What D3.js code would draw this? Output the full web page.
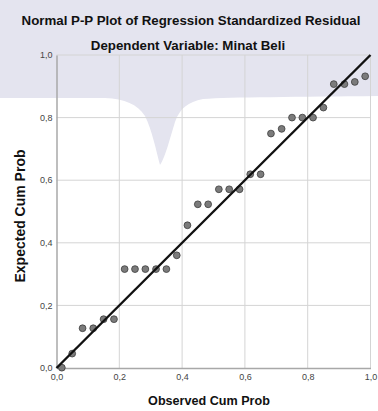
<!DOCTYPE html>
<html>
<head>
<meta charset="utf-8">
<script src="https://cdn.jsdelivr.net/npm/d3@7"></script>
<style>
    body { margin: 0; background: #fff; }
    svg { display: block; font-family: "Liberation Sans", Arial, sans-serif; }
</style>
</head>
<body>
<svg id="chart"></svg>
<script>
// observed vs expected cumulative probabilities
const observed = [0.017, 0.050, 0.083, 0.117, 0.150, 0.183, 0.217, 0.250, 0.283, 0.317,
    0.350, 0.383, 0.417, 0.450, 0.483, 0.517, 0.550, 0.583, 0.617, 0.650,
    0.683, 0.717, 0.750, 0.783, 0.817, 0.850, 0.883, 0.917, 0.950, 0.983];
const expected = [0.001, 0.046, 0.127, 0.127, 0.156, 0.156, 0.316, 0.316, 0.316, 0.316,
    0.316, 0.360, 0.456, 0.523, 0.523, 0.571, 0.571, 0.571, 0.619, 0.619,
    0.749, 0.764, 0.800, 0.800, 0.800, 0.832, 0.907, 0.907, 0.914, 0.932];
const ticks = [0, 0.2, 0.4, 0.6, 0.8, 1.0];
const title = "Normal P-P Plot of Regression Standardized Residual";
const subtitle = "Dependent Variable: Minat Beli";
const xLabel = "Observed Cum Prob";
const yLabel = "Expected Cum Prob";

const width = 378, height = 411;
const margin = { top: 55, right: 7.5, bottom: 43, left: 56.5 };
const fmt = d => d3.format(".1f")(d).replace(".", ",");

const svg = d3.select("#chart").attr("width", width).attr("height", height);

// watermark band from the scanned page
svg.append("path")
    .attr("fill", "#e4e4ef")
    .attr("d", "M0,0 H378 V96 C300,97 230,97 203,99 C188,102 180,108 175,122 C170,138 165,158 160,165 C156,150 152,130 145,116 C137,104 125,99 105,98 L0,98 Z");

const xScale = d3.scaleLinear().domain([0, 1]).range([margin.left, width - margin.right]);
const yScale = d3.scaleLinear().domain([0, 1]).range([height - margin.bottom, margin.top]);

// grid
const grid = svg.append("g").attr("stroke", "#d4d4d4").attr("stroke-width", 1);
grid.selectAll(".gx").data(ticks.slice(1)).join("line")
    .attr("x1", d => xScale(d)).attr("x2", d => xScale(d))
    .attr("y1", yScale(0)).attr("y2", yScale(1));
grid.selectAll(".gy").data(ticks.slice(1)).join("line")
    .attr("x1", xScale(0)).attr("x2", xScale(1))
    .attr("y1", d => yScale(d)).attr("y2", d => yScale(d));

// axes
const xAxis = svg.append("g")
    .attr("transform", `translate(0,${ yScale(0) })`)
    .call(d3.axisBottom(xScale).tickValues(ticks).tickFormat(fmt).tickSize(0).tickPadding(6));
const yAxis = svg.append("g")
    .attr("transform", `translate(${ xScale(0) },0)`)
    .call(d3.axisLeft(yScale).tickValues(ticks).tickFormat(fmt).tickSize(0).tickPadding(4));
[xAxis, yAxis].forEach(a => {
    a.select(".domain").attr("stroke", "#a8a8a8").attr("stroke-width", 1.5);
    a.selectAll("text").attr("font-size", 9).attr("fill", "#444").attr("font-family", "Liberation Sans, Arial, sans-serif");
});
yAxis.selectAll("text").attr("dy", "0.3em");

// points
const pts = observed.map((o, i) => [o, expected[i]]);
svg.append("g").selectAll("circle").data(pts).join("circle")
    .attr("cx", d => xScale(d[0]))
    .attr("cy", d => yScale(d[1]))
    .attr("r", 3.4)
    .attr("fill", "#7b7b7b")
    .attr("stroke", "#3c3c3c")
    .attr("stroke-width", 0.8);

// reference line
svg.append("line")
    .attr("x1", xScale(0)).attr("y1", yScale(0))
    .attr("x2", xScale(1)).attr("y2", yScale(1))
    .attr("stroke", "#111").attr("stroke-width", 2.4);

// titles
svg.append("text").attr("x", 191).attr("y", 25).attr("text-anchor", "middle")
    .attr("font-size", 13.3).attr("font-weight", "bold").attr("fill", "#111").text(title);
svg.append("text").attr("x", 188).attr("y", 50).attr("text-anchor", "middle")
    .attr("font-size", 13.3).attr("font-weight", "bold").attr("fill", "#111").text(subtitle);
svg.append("text").attr("x", 209).attr("y", 405).attr("text-anchor", "middle")
    .attr("font-size", 12.6).attr("font-weight", "bold").attr("fill", "#111").text(xLabel);
svg.append("text").attr("transform", "translate(25,216) rotate(-90)").attr("text-anchor", "middle")
    .attr("font-size", 14).attr("font-weight", "bold").attr("fill", "#111").text(yLabel);
</script>
</body>
</html>
